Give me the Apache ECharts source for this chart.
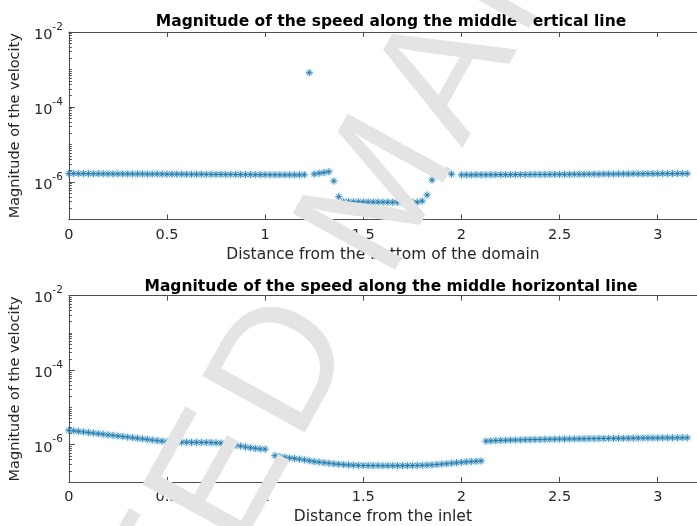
<!DOCTYPE html>
<html><head><meta charset="utf-8">
<script src="https://cdn.jsdelivr.net/npm/echarts@6/dist/echarts.min.js"></script>
<style>html,body{margin:0;padding:0;background:#fff}#c{width:697px;height:526px}</style>
</head><body><div id="c"></div>
<script>
// ---- data (speed values in micro-units, 1e-6) ----
const UNIT = 1e-6;
const xStep = 0.025; // uniform sampling along the line
const verticalLineSpeed = [
 1.68,1.68,1.67,1.67,1.67,1.66,1.66,1.66,1.65,1.65,
 1.65,1.65,1.64,1.64,1.64,1.64,1.63,1.63,1.63,1.63,
 1.62,1.62,1.62,1.62,1.61,1.61,1.61,1.61,1.60,1.60,
 1.60,1.60,1.59,1.59,1.59,1.58,1.58,1.58,1.57,1.57,
 1.57,1.56,1.56,1.56,1.55,1.55,1.55,1.55,1.56,
 820,
 1.63,1.71,1.79,1.88,
 1.06,0.406,
 0.300,0.298,0.296,0.295,0.294,0.293,0.292,0.291,
 0.290,0.289,0.288,0.288,0.287,0.287,0.286,0.290,
 0.31,0.45,1.13,
 1.85,1.92,1.95,1.62,
 710,
 1.55,1.55,1.55,1.56,1.56,1.56,1.56,1.57,1.57,1.57,
 1.57,1.58,1.58,1.58,1.58,1.59,1.59,1.59,1.59,1.60,
 1.60,1.60,1.60,1.61,1.61,1.61,1.62,1.62,1.62,1.63,
 1.63,1.63,1.64,1.64,1.64,1.65,1.65,1.65,1.66,1.66,
 1.66,1.67,1.67,1.67,1.68,1.68,1.68
];
const horizontalLineSpeed = [
 2.45,2.36,2.28,2.20,2.13,2.05,1.98,1.91,1.84,1.78,1.72,1.66,1.60,1.54,1.49,1.44,1.39,1.34,1.29,1.25,1.20,
 1.19,1.18,1.17,1.17,1.16,1.16,1.15,1.15,1.14,1.12,1.10,
 1.07,1.02,0.97,0.92,0.87,0.83,0.80,0.77,0.76,
 null,
 0.51,
 0.48,0.46,0.442,0.427,0.412,0.392,0.372,0.354,0.342,0.330,0.318,0.308,0.300,0.293,0.287,0.282,0.279,0.277,
 0.276,0.275,0.275,0.274,0.274,0.274,0.274,0.275,0.275,0.276,
 0.278,0.280,0.284,0.288,0.295,0.303,0.310,0.320,0.329,0.338,0.346,0.354,0.360,0.368,
 1.25,1.27,1.29,1.30,1.32,1.33,1.34,1.35,1.36,1.37,1.38,1.39,1.40,1.40,1.41,1.42,1.42,1.43,1.44,1.44,1.45,
 1.46,1.46,1.47,1.47,1.48,1.48,1.49,1.49,1.50,1.50,1.51,1.51,1.52,1.52,1.52,1.53,1.53,1.53,1.54,1.54,1.54
];
const titles = ['Magnitude of the speed along the middle vertical line','Magnitude of the speed along the middle horizontal line'];
const xNames = ['Distance from the bottom of the domain','Distance from the inlet'];
const yName = 'Magnitude of the velocity';
const xMin = 0, xMax = 3.2, xInterval = 0.5;
const yMin = 1e-7, yMax = 1e-2;
const yLabelExponents = [-6,-4,-2];
const watermarkText = 'ACCEPTED MANUSCRIPT';

// ---- chart ----
const TXT = '#262626', AX = '#4d4d4d', MK = '#1b6fa5';
const FONT = '"DejaVu Sans", sans-serif';
const toPts = arr => arr.map((v,i)=> v==null?null:[i*xStep, v*UNIT]).filter(Boolean);

const minorExp = [], majorExp = yLabelExponents.slice();
for (let e=-7; e<=-3; e++){ if(!majorExp.includes(e)) minorExp.push(e); for(let k=2;k<=9;k++) minorExp.push(e+Math.log10(k)); }

const grids = [{left:66, right:-8, top:32, height:187.5},{left:66, right:-8, top:295.7, height:188.3}];
const asterisk = 'path://M0,5L10,5M5,0L5,10M1.6,1.6L8.4,8.4M8.4,1.6L1.6,8.4';

const xAxes = [], yAxes = [], series = [], titleOpts = [];
grids.forEach((g,gi)=>{
  xAxes.push({gridIndex:gi, type:'value', min:xMin, max:xMax, interval:xInterval, position:'bottom',
    name:xNames[gi], nameLocation:'middle', nameGap:27, nameTextStyle:{color:TXT, fontSize:15.5, fontFamily:FONT},
    axisLine:{show:true,onZero:false,lineStyle:{color:AX,width:1}},
    axisTick:{show:true,inside:true,length:5,lineStyle:{color:AX}},
    axisLabel:{color:TXT,fontSize:14.5,fontFamily:FONT,margin:8,showMaxLabel:false},
    splitLine:{show:false}});
  xAxes.push({gridIndex:gi, type:'value', min:xMin, max:xMax, interval:xInterval, position:'top',
    axisLine:{show:true,onZero:false,lineStyle:{color:AX,width:1}},
    axisTick:{show:true,inside:true,length:5,lineStyle:{color:AX}},
    axisLabel:{show:false}, splitLine:{show:false}});
  yAxes.push({gridIndex:gi, type:'log', logBase:10, min:yMin, max:yMax, position:'left',
    name:yName, nameLocation:'middle', nameGap:37, nameRotate:90, nameTextStyle:{color:TXT,fontSize:14.5,fontFamily:FONT},
    axisLine:{show:true,onZero:false,lineStyle:{color:AX,width:1}},
    axisTick:{show:false}, splitLine:{show:false}, minorTick:{show:false},
    axisLabel:{color:TXT, margin:6, fontFamily:FONT,
      formatter:v=>{const e=Math.round(Math.log10(v)); return yLabelExponents.includes(e)?'{b|10}{s|'+e+'}':'';},
      rich:{b:{fontSize:14.5,fontFamily:FONT,color:TXT,padding:[6,0,0,0],verticalAlign:'bottom'},
            s:{fontSize:10.5,fontFamily:FONT,color:TXT,verticalAlign:'top'}}}});
  yAxes.push({gridIndex:gi, type:'value', min:-7, max:-2, position:'left',
    axisLine:{show:false}, axisLabel:{show:false}, splitLine:{show:false},
    axisTick:{show:true,inside:true,length:3,customValues:minorExp,lineStyle:{color:AX}}});
  yAxes.push({gridIndex:gi, type:'value', min:-7, max:-2, position:'left',
    axisLine:{show:false}, axisLabel:{show:false}, splitLine:{show:false},
    axisTick:{show:true,inside:true,length:6,customValues:majorExp,lineStyle:{color:AX}}});
  series.push({type:'scatter', xAxisIndex:gi*2, yAxisIndex:gi*3,
    data: toPts(gi===0?verticalLineSpeed:horizontalLineSpeed),
    symbol:asterisk, symbolSize:7,
    itemStyle:{color:'rgba(0,0,0,0)', borderColor:MK, borderWidth:1, shadowBlur:3, shadowColor:'rgba(90,190,225,0.8)'},
    emphasis:{disabled:true}, silent:true});
  titleOpts.push({text:titles[gi], left:386, textAlign:'center', top: gi===0?9:274,
    textStyle:{color:'#000',fontSize:15.5,fontWeight:'bold',fontFamily:FONT}});
});

// watermark: letters laid out along a rotated baseline
const WM_FONT = '"Liberation Sans", Arial, sans-serif';
const wmGlyph = 170, wmPitch = 185, wmAngle = 61*Math.PI/180, wmCx = 384, wmCy = 193;
const mctx = document.createElement('canvas').getContext('2d');
mctx.font = wmPitch + 'px ' + WM_FONT;
const adv = [...watermarkText].map(ch=>mctx.measureText(ch).width);
const total = adv.reduce((a,b)=>a+b,0);
const ux = Math.cos(wmAngle), uy = -Math.sin(wmAngle);
let acc = 0;
const wmGraphics = [];
[...watermarkText].forEach((ch,k)=>{
  const s = acc + adv[k]/2 - total/2; acc += adv[k];
  if (ch === ' ') return;
  wmGraphics.push({type:'text', x: wmCx + s*ux, y: wmCy + s*uy, rotation: wmAngle, z:100, silent:true,
    style:{text:ch, font: wmGlyph + 'px ' + WM_FONT, fill:'#e4e4e4', align:'center', verticalAlign:'middle'}});
});

const chart = echarts.init(document.getElementById('c'), null, {renderer:'canvas'});
chart.setOption({
  animation:false, backgroundColor:'#fff',
  title:titleOpts, grid:grids, xAxis:xAxes, yAxis:yAxes, series:series,
  graphic: wmGraphics
});
</script></body></html>
